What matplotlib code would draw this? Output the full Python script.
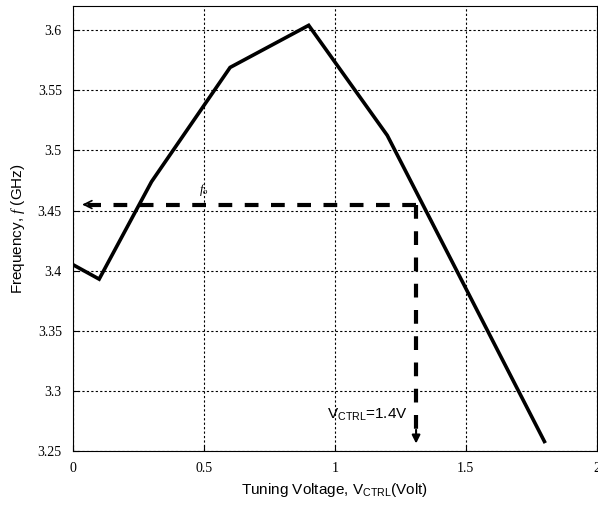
import matplotlib.pyplot as plt

plt.rcParams['mathtext.fontset'] = 'custom'
plt.rcParams['mathtext.rm'] = 'Liberation Sans'
plt.rcParams['mathtext.it'] = 'Liberation Serif:italic'

# tuning curve
v_ctrl = [0.0, 0.1, 0.3, 0.6, 0.9, 1.2, 1.8]
freq = [3.405, 3.393, 3.474, 3.569, 3.604, 3.5125, 3.258]

v_mark = 1.31
f_mark = 3.455
xticks = [0, 0.5, 1, 1.5, 2]
xtick_labels = ['0', '0.5', '1', '1.5', '2']
yticks = [3.25, 3.3, 3.35, 3.4, 3.45, 3.5, 3.55, 3.6]
ytick_labels = ['3.25', '3.3', '3.35', '3.4', '3.45', '3.5', '3.55', '3.6']

fig = plt.figure(figsize=(5.98, 5.08), dpi=100)
ax = fig.add_axes([0.122, 0.112, 0.876, 0.876])

ax.plot(v_ctrl, freq, color='black', lw=2.6, solid_joinstyle='miter')

# dashed guides with arrows
ax.plot([v_mark, 0.04], [f_mark, f_mark], color='black', lw=3, dashes=(3.3, 3))
ax.annotate('', xy=(0.025, f_mark), xytext=(0.06, f_mark),
            arrowprops=dict(arrowstyle='->', color='black', lw=1.2, mutation_scale=14))
ax.plot([v_mark, v_mark], [f_mark, 3.264], color='black', lw=3, dashes=(3.3, 3))
ax.annotate('', xy=(v_mark, 3.254), xytext=(v_mark, 3.27),
            arrowprops=dict(arrowstyle='-|>', color='black', lw=1.5, mutation_scale=12))

ax.text(0.48, 3.465, r'$f_o$', fontsize=9)
ax.text(0.97, 3.277, r'V$_{\mathrm{CTRL}}$=1.4V', fontsize=11, family='Liberation Sans')

ax.set_xlim(0, 2)
ax.set_ylim(3.25, 3.62)
ax.set_xticks(xticks)
ax.set_xticklabels(xtick_labels, family='Liberation Serif', fontsize=10)
ax.set_yticks(yticks)
ax.set_yticklabels(ytick_labels, family='Liberation Serif', fontsize=10)
ax.tick_params(direction='in', length=4, pad=8)
ax.grid(True, color='black', linestyle=(0, (2, 2)), lw=0.8)

ax.set_xlabel(r'Tuning Voltage, V$_{\mathrm{CTRL}}$(Volt)', family='Liberation Sans', fontsize=11)
ax.set_ylabel(r'Frequency, $f$ (GHz)', family='Liberation Sans', fontsize=11, labelpad=8)

fig.savefig('out.png', dpi=100)
